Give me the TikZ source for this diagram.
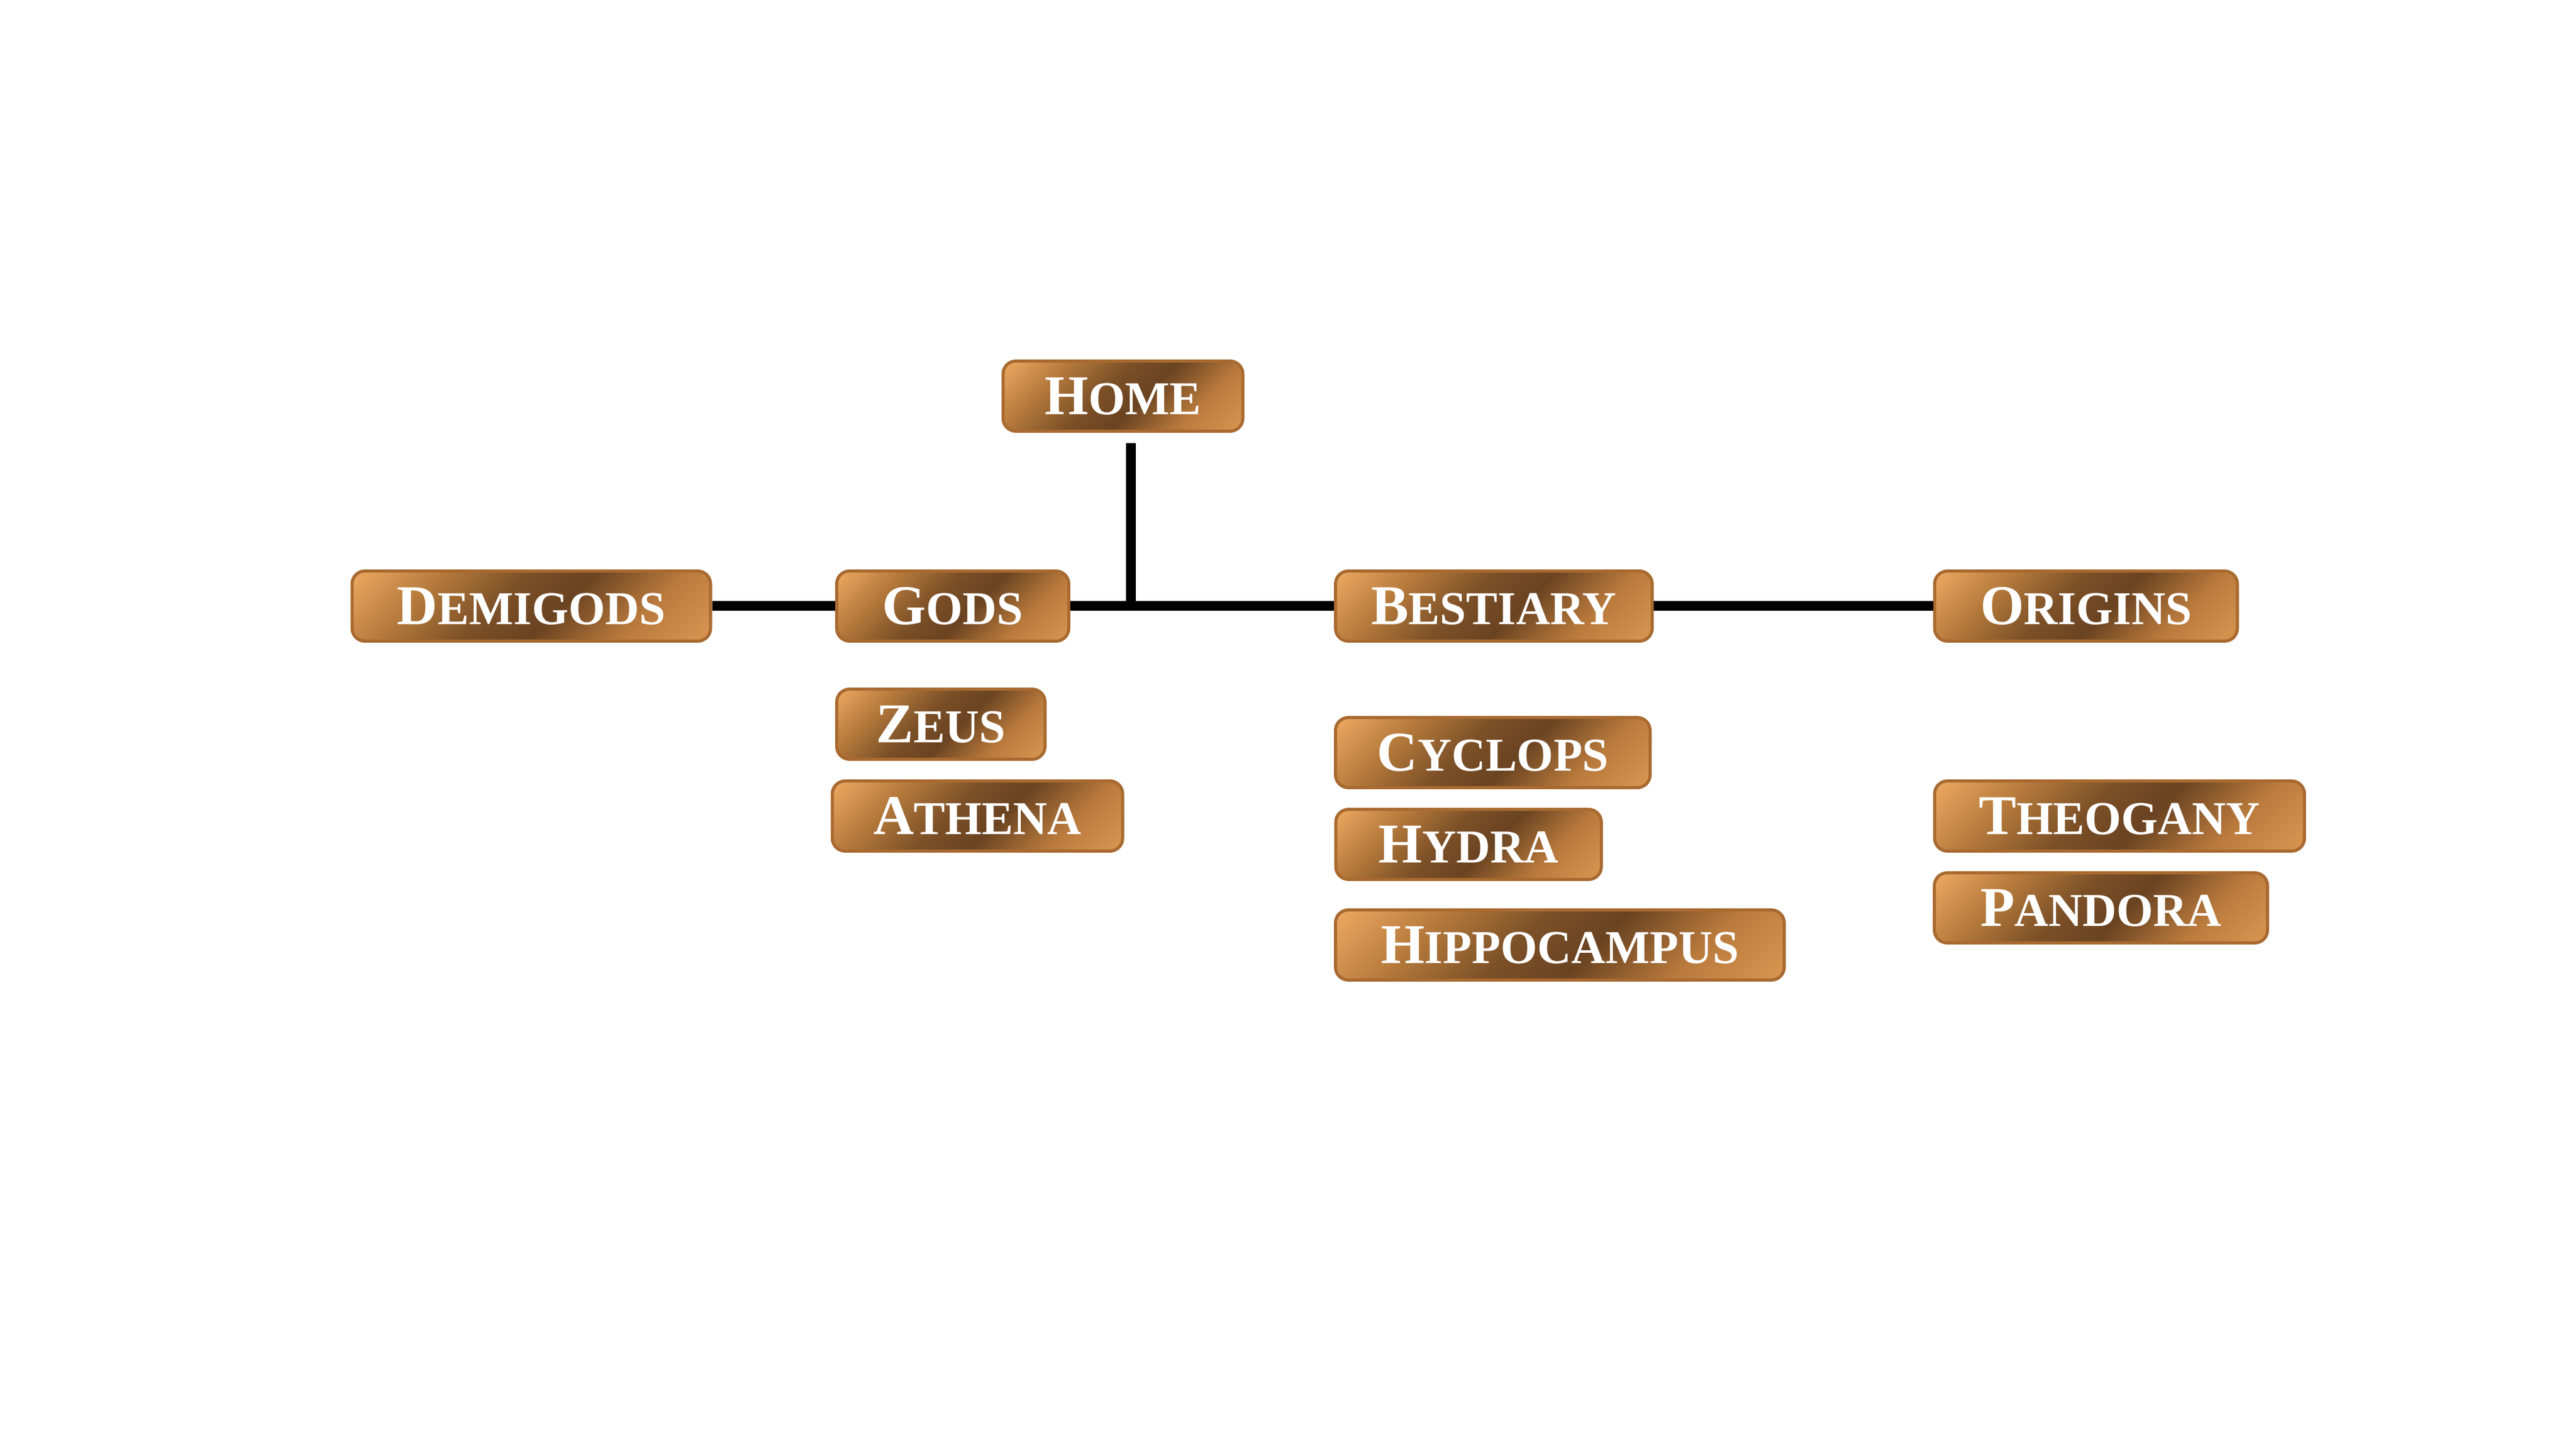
\documentclass[tikz,border=0pt]{standalone}
\usepackage{fontspec}
\setmainfont{Liberation Serif}

\definecolor{cobreA}{HTML}{D99652}
\definecolor{cobreB}{HTML}{B97A3C}
\definecolor{cobreC}{HTML}{6A4321}
\definecolor{cobreD}{HTML}{7C5027}
\definecolor{cobreE}{HTML}{B57A3B}
\definecolor{cobreF}{HTML}{EDA862}
\definecolor{cobreborde}{HTML}{A86A30}

\pgfdeclareverticalshading{cobre}{100bp}{color(0bp)=(cobreA); color(15bp)=(cobreA);
  color(30bp)=(cobreB); color(45bp)=(cobreC); color(56bp)=(cobreD);
  color(70bp)=(cobreE); color(85bp)=(cobreF); color(100bp)=(cobreF)}

\newcommand{\versal}[2]{{\fontsize{31pt}{31pt}\selectfont #1}{\fontsize{26pt}{26pt}\selectfont #2}}

\tikzset{
    boton/.style={rectangle, rounded corners=0.25cm, draw=cobreborde, line width=0.06cm,
        shading=cobre, shading angle=45, text=white, font=\bfseries,
        minimum height=1.36cm, inner sep=0pt},
    enlace/.style={line width=0.19cm}
}

\begin{document}
\begin{tikzpicture}
        \useasboundingbox[fill=white] (0,0) rectangle (49.94,28.09);
        % Botones principales
        \node[boton, minimum width=4.65cm] (home) at (21.77,20.41) {\versal{H}{OME}};
        \node[boton, minimum width=6.95cm] (demigods) at (10.30,16.34) {\versal{D}{EMIGODS}};
        \node[boton, minimum width=4.50cm] (gods) at (18.47,16.34) {\versal{G}{ODS}};
        \node[boton, minimum width=6.14cm] (bestiary) at (28.96,16.34) {\versal{B}{ESTIARY}};
        \node[boton, minimum width=5.87cm] (origins) at (40.44,16.34) {\versal{O}{RIGINS}};
        % Subpaginas
        \node[boton, minimum width=4.04cm] (zeus) at (18.24,14.05) {\versal{Z}{EUS}};
        \node[boton, minimum width=5.63cm] (athena) at (18.95,12.27) {\versal{A}{THENA}};
        \node[boton, minimum width=6.10cm] (cyclops) at (28.94,13.50) {\versal{C}{YCLOPS}};
        \node[boton, minimum width=5.15cm] (hydra) at (28.47,11.72) {\versal{H}{YDRA}};
        \node[boton, minimum width=8.70cm] (hippo) at (30.24,9.77) {\versal{H}{IPPOCAMPUS}};
        \node[boton, minimum width=7.17cm] (theogany) at (41.09,12.27) {\versal{T}{HEOGANY}};
        \node[boton, minimum width=6.46cm] (pandora) at (40.73,10.49) {\versal{P}{ANDORA}};
        % Conexiones
        \draw[enlace] (demigods.east) -- (gods.west);
        \draw[enlace] (gods.east) -- (bestiary.west);
        \draw[enlace] (bestiary.east) -- (origins.west);
        \coordinate (bajada) at (21.92,19.50);
        \draw[enlace] (bajada) -- (bajada |- gods.east);
    \end{tikzpicture}
\end{document}
